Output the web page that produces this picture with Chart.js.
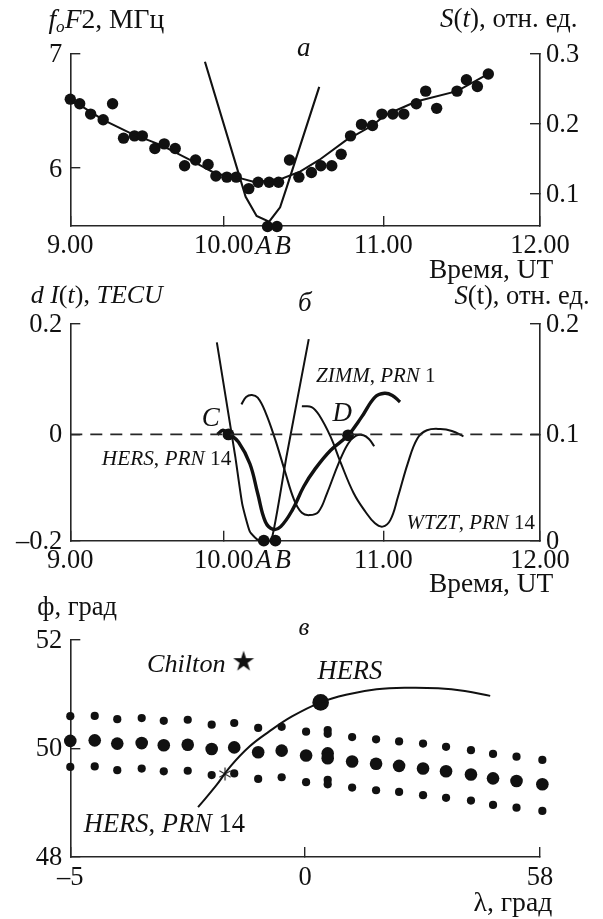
<!DOCTYPE html>
<html><head><meta charset="utf-8">
<style>
html,body{margin:0;padding:0;background:#fff;width:603px;height:919px;overflow:hidden}
#wrap{position:relative;width:603px;height:919px}
canvas{position:absolute;left:0}
.t{position:absolute;font-family:"Liberation Serif",serif;line-height:1;white-space:pre;color:#111}
.t i{font-style:italic}
.t sub{font-size:.62em;line-height:0;vertical-align:-.25em}
</style>
<script src="https://cdn.jsdelivr.net/npm/chart.js@4"></script>
</head><body><div id="wrap">
<canvas id="ca" width="603" height="290" style="top:0"></canvas>
<canvas id="cb" width="603" height="310" style="top:290px"></canvas>
<canvas id="cc" width="603" height="319" style="top:600px"></canvas>
</div>
<script>
// ---- Panel a ----
const timeTicks = [9, 9.98, 11, 12];
const timeLabels = ['9.00', '10.00', '11.00', '12.00'];
const aLeftTicks = [6, 7];
const aLeftLabels = ['6', '7'];
const aRightTicks = [0.1, 0.2, 0.3];
const aRightLabels = ['0.1', '0.2', '0.3'];
const aDotsX = [9.00,9.06,9.13,9.21,9.27,9.34,9.41,9.46,9.54,9.60,9.67,9.73,9.80,9.88,9.93,10.00,10.06,10.14,10.20,10.27,10.33,10.40,10.46,10.54,10.60,10.67,10.73,10.79,10.86,10.93,10.99,11.06,11.13,11.21,11.27,11.34,11.47,11.53,11.60,11.67];
const aDotsY = [6.60,6.56,6.47,6.42,6.56,6.26,6.28,6.28,6.17,6.21,6.17,6.02,6.07,6.03,5.93,5.92,5.92,5.82,5.875,5.875,5.875,6.07,5.92,5.96,6.02,6.02,6.12,6.28,6.38,6.37,6.47,6.47,6.47,6.56,6.67,6.52,6.67,6.77,6.71,6.82];
const aTrendX = [9.00,9.13,9.21,9.39,9.58,9.78,9.93,10.06,10.17,10.33,10.47,10.59,10.76,10.93,11.01,11.21,11.47,11.67];
const aTrendY = [6.60,6.49,6.42,6.30,6.20,6.06,5.95,5.92,5.88,5.895,5.97,6.07,6.24,6.37,6.46,6.58,6.67,6.82];
const aSX = [9.86,10.12,10.19,10.27,10.34,10.38,10.59];
const aSY = [0.288,0.095,0.0676,0.0595,0.08,0.107,0.252];
const aMarkX = [10.26,10.32];
const aMarkY = [5.49,5.49];
// ---- Panel b ----
const bLeftTicks = [-0.2,-0.004,0.2];
const bLeftLabels = ['\u20130.2','0','0.2'];
const bRightTicks = [0,0.098,0.2];
const bRightLabels = ['0','0.1','0.2'];
const bZeroX = [9,12];
const bZeroY = [-0.004,-0.004];
const bSX = [9.936,10.054,10.098,10.147,10.20,10.283,10.38,10.523];
const bSY = [0.183,0.0773,0.034,0.0083,0.0006,0,0.077,0.186];
const hersX = [9.939,9.975,10.012,10.074,10.147,10.197,10.246,10.295,10.344,10.418,10.491,10.565,10.663,10.774,10.86,10.946,11.007,11.057,11.106];
const hersY = [-0.004,0.0037,-0.0025,-0.018,-0.058,-0.113,-0.165,-0.179,-0.174,-0.1436,-0.10,-0.067,-0.033,-0.0055,0.028,0.065,0.072,0.068,0.056];
const zimmX = [10.093,10.123,10.16,10.197,10.246,10.307,10.369,10.43,10.479,10.528,10.585,10.639,10.713,10.774,10.823,10.872,10.909,10.941];
const zimmY = [0.0515,0.065,0.0687,0.0638,0.0374,-0.0117,-0.07,-0.125,-0.1485,-0.1528,-0.1466,-0.113,-0.0577,-0.021,-0.0067,-0.0055,-0.0129,-0.0258];
const wtztX = [10.479,10.541,10.59,10.663,10.725,10.811,10.885,10.946,10.995,11.044,11.093,11.155,11.216,11.278,11.364,11.437,11.511];
const wtztY = [0.0479,0.0466,0.0313,-0.0086,-0.0546,-0.113,-0.1466,-0.168,-0.174,-0.162,-0.119,-0.0577,-0.0117,0.0037,0.0061,0.0025,-0.0074];
const bMarkX = [10.01,10.774,10.236,10.31];
const bMarkY = [-0.004,-0.0055,-0.2,-0.2];
// ---- Panel c ----
const lonTicks = [-5,0,5];
const lonLabels = ['\u20135','0','58'];
const latTicks = [48,50,52];
const latLabels = ['48','50','52'];
const gridX = [-5.0,-4.48,-4.0,-3.48,-3.01,-2.5,-1.99,-1.51,-1.0,-0.5,0.02,0.48,0.48,1.0,1.51,2.0,2.51,3.0,3.53,4.0,4.5,5.05];
const topRow = [50.595,50.60,50.54,50.56,50.51,50.53,50.44,50.47,50.38,50.40,50.31,50.34,50.27,50.21,50.17,50.13,50.09,50.03,49.97,49.90,49.85,49.79];
const midRow = [50.14,50.15,50.09,50.10,50.06,50.07,49.99,50.02,49.93,49.96,49.87,49.91,49.82,49.76,49.72,49.68,49.63,49.58,49.52,49.45,49.40,49.34];
const lowRow = [49.66,49.67,49.60,49.63,49.58,49.59,49.51,49.54,49.44,49.47,49.38,49.42,49.34,49.28,49.23,49.20,49.14,49.09,49.04,48.96,48.91,48.85];
const trackX = [-2.28,-1.91,-1.59,-1.18,-0.77,-0.28,0.33,0.87,1.52,2.18,2.83,3.40,3.94];
const trackY = [48.92,49.30,49.67,50.04,50.31,50.59,50.85,50.99,51.09,51.12,51.11,51.06,50.97];
const hersSiteX = [0.33], hersSiteY = [50.85];
const chiltonX = [-1.31], chiltonY = [51.61];
const ipX = [-1.706], ipY = [49.53];

const INK = '#111', AXIS = '#262626', SERIF = '"Liberation Serif", serif';
const pts = (xs, ys) => xs.map((x, i) => ({x, y: ys[i]}));
const dots = (xs, ys, r) => ({data: pts(xs, ys), showLine: false, pointRadius: r, pointBackgroundColor: INK, pointBorderWidth: 0, clip: false});
const line = (xs, ys, w, extra) => Object.assign({data: pts(xs, ys), showLine: true, pointRadius: 0, borderColor: INK, borderWidth: w, clip: false}, extra || {});
const SMOOTH = {tension: 0.4};

function axis(cfg) {
  const o = {
    type: 'linear', position: cfg.pos, min: cfg.min, max: cfg.max,
    border: {color: AXIS, width: 1.6},
    grid: {drawOnChartArea: false, drawTicks: true, tickLength: -cfg.tick, color: AXIS, lineWidth: 1.4},
    ticks: {autoSkip: false, maxRotation: 0, padding: cfg.pad, labelOffset: cfg.off || 0, color: INK, font: {family: SERIF, size: 26.5},
            callback: (v, i) => cfg.labels[i]},
    afterBuildTicks: s => { s.ticks = cfg.vals.map(value => ({value})); },
    afterFit: s => { if (cfg.w !== undefined) s.width = cfg.w; if (cfg.h !== undefined) s.height = cfg.h; }
  };
  return o;
}
function panel(id, top, right, datasets, scales) {
  return new Chart(document.getElementById(id), {
    type: 'scatter',
    data: {datasets},
    options: {
      responsive: false, animation: false,
      layout: {padding: {top, left: 0, right, bottom: 0}, autoPadding: false},
      plugins: {legend: {display: false}, tooltip: {enabled: false}},
      scales
    }
  });
}

panel('ca', 53.3, 0, [
  line(aTrendX, aTrendY, 2),
  line(aSX, aSY, 2.1, {yAxisID: 'y1'}),
  dots(aDotsX, aDotsY, 5.7),
  dots(aMarkX, aMarkY, 5.7)
], {
  x: axis({pos:'bottom', min:9, max:12, vals:timeTicks, labels:timeLabels, tick:10, pad:14.4, h:64}),
  y: axis({pos:'left', min:5.494, max:7, vals:aLeftTicks, labels:aLeftLabels, tick:10, pad:18, w:70.3, off:2}),
  y1: axis({pos:'right', min:0.0533, max:0.3, vals:aRightTicks, labels:aRightLabels, tick:10, pad:16, w:63, off:2})
});

panel('cb', 33.3, 0, [
  line(bZeroX, bZeroY, 1.7, {borderColor: AXIS, borderDash: [12, 8]}),
  line(bSX, bSY, 2, {yAxisID: 'y1', tension: 0.15}),
  line(zimmX, zimmY, 2, SMOOTH),
  line(wtztX, wtztY, 2, SMOOTH),
  line(hersX, hersY, 3.4, SMOOTH),
  dots(bMarkX, bMarkY, 5.9)
], {
  x: axis({pos:'bottom', min:9, max:12, vals:timeTicks, labels:timeLabels, tick:10, pad:14.4, h:59.3}),
  y: axis({pos:'left', min:-0.2, max:0.2, vals:bLeftTicks, labels:bLeftLabels, tick:10, pad:18, w:70.3, off:1}),
  y1: axis({pos:'right', min:0, max:0.2, vals:bRightTicks, labels:bRightLabels, tick:10, pad:16, w:63, off:1})
});

// filled five-pointed star used as the point glyph for Chilton
const starGlyph = document.createElement('canvas');
starGlyph.width = 22; starGlyph.height = 22;
(function () {
  const g = starGlyph.getContext('2d');
  g.fillStyle = INK; g.beginPath();
  for (let i = 0; i < 10; i++) {
    const r = i % 2 ? 4.2 : 11, a = -Math.PI / 2 + i * Math.PI / 5;
    g.lineTo(11 + r * Math.cos(a), 11.5 + r * Math.sin(a));
  }
  g.closePath(); g.fill();
})();
// six-armed asterisk glyph for the ionospheric point
const astGlyph = document.createElement('canvas');
astGlyph.width = 14; astGlyph.height = 14;
(function () {
  const g = astGlyph.getContext('2d');
  g.strokeStyle = '#333'; g.lineWidth = 1.3; g.beginPath();
  for (let i = 0; i < 3; i++) {
    const a = Math.PI / 2 + i * Math.PI / 3, c = Math.cos(a) * 6.5, s = Math.sin(a) * 6.5;
    g.moveTo(7 - c, 7 - s); g.lineTo(7 + c, 7 + s);
  }
  g.stroke();
})();

panel('cc', 40, 63, [
  line(trackX, trackY, 2, SMOOTH),
  dots(gridX, topRow, 4.1),
  dots(gridX, midRow, 6.3),
  dots(gridX, lowRow, 4.1),
  dots(hersSiteX, hersSiteY, 8.3),
  {data: pts(chiltonX, chiltonY), showLine: false, pointStyle: starGlyph, clip: false},
  {data: pts(ipX, ipY), showLine: false, pointStyle: astGlyph, clip: false}
], {
  x: axis({pos:'bottom', min:-5, max:5, vals:lonTicks, labels:lonLabels, tick:10, pad:15.4, h:62}),
  y: axis({pos:'left', min:48, max:52, vals:latTicks, labels:latLabels, tick:10, pad:18, w:70.3, off:1})
});

// Text annotations: [html, left, baseline, size]
const notes = [
  ['<i>f<sub>o</sub>F</i>2, МГц', 48.4, 28, 27.6],
  ['<i>S</i>(<i>t</i>), отн. ед.', 440, 28, 27],
  ['<i>а</i>', 297, 57, 27],
  ['<i>A</i>', 255.6, 254, 26.5], ['<i>B</i>', 274.8, 254, 26.5],
  ['Время, UT', 429, 279, 27.4],
  ['<i>d I</i>(<i>t</i>), <i>TECU</i>', 30.7, 304, 26],
  ['<i>S</i>(t), отн. ед.', 454.6, 304, 26.5],
  ['<i>б</i>', 298, 312, 27],
  ['<i>ZIMM</i>, <i>PRN</i> 1', 316, 383, 21],
  ['<i>C</i>', 201.8, 427, 27], ['<i>D</i>', 332.4, 422, 27],
  ['<i>HERS</i>, <i>PRN</i> 14', 101.8, 466, 21.3],
  ['<i>WTZT</i>, <i>PRN</i> 14', 406.6, 530, 20.9],
  ['<i>A</i>', 255.6, 568, 26.5], ['<i>B</i>', 274.8, 568, 26.5],
  ['Время, UT', 429, 593, 27.4],
  ['ф, град', 37.3, 615, 26.5],
  ['<i>в</i>', 298.5, 635, 25],
  ['<i>Chilton</i>', 147, 673, 26.2],
  ['<i>HERS</i>', 317.5, 679, 26.5],
  ['<i>HERS</i>, <i>PRN</i> 14', 83.8, 832, 26.5],
  ['λ, град', 473.5, 911, 27.7]
];
const wrap = document.getElementById('wrap');
notes.forEach(([html, left, base, size]) => {
  const d = document.createElement('div');
  d.className = 't';
  d.innerHTML = html;
  d.style.left = left + 'px';
  d.style.top = (base - 0.8375 * size) + 'px';
  d.style.fontSize = size + 'px';
  wrap.appendChild(d);
});
</script></body></html>
